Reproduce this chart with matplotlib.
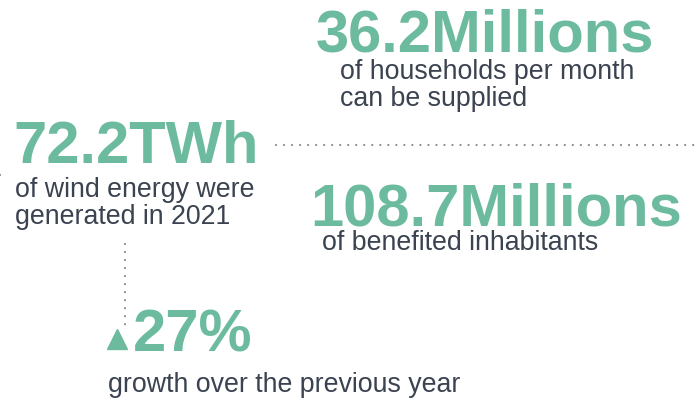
import matplotlib
matplotlib.use("Agg")
import matplotlib.pyplot as plt

plt.rcParams['font.family'] = ['Liberation Sans', 'DejaVu Sans']

# data
values = ["36.2", "72.2", "108.7", "27"]
units = ["Millions", "TWh", "Millions", "%"]
descriptions = [
    ["of households per month", "can be supplied"],
    ["of wind energy were", "generated in 2021"],
    ["of benefited inhabitants"],
    ["growth over the previous year"],
]

GREEN = "#6dbb9f"
DARK = "#3b4350"
DOT = "#8a8a8a"

W, H = 699, 403
fig = plt.figure(figsize=(W / 100, H / 100), dpi=100)
ax = fig.add_axes([0, 0, 1, 1])
ax.set_xlim(0, W)
ax.set_ylim(H, 0)
ax.axis("off")

# layout: (value x, value baseline, desc x, desc first baseline)
layout = [
    (316, 51, 340, 79),
    (13, 163, 15, 197),
    (310, 225, 322, 250),
    (133, 351, 108, 392),
]
big = 43.0
small = 19.3
gap = 26.5
for (vx, vy, dx, dy), v, u, d in zip(layout, values, units, descriptions):
    ax.text(vx, vy, v + u, color=GREEN, fontsize=big, fontweight="bold",
            ha="left", va="baseline")
    for i, line in enumerate(d):
        ax.text(dx, dy + i * gap, line, color=DARK, fontsize=small,
                ha="left", va="baseline")

# dotted connectors
def dotted(x0, y0, x1, y1):
    ax.plot([x0, x1], [y0, y1], color=DOT, lw=1.6, dashes=(0.01, 3.6),
            solid_capstyle="round", dash_capstyle="round")

dotted(276, 145, 699, 145)
dotted(125, 244, 125, 326)
dotted(0, 175, 3, 175)

# up triangle marker
ax.plot([117], [339], marker="^", markersize=14, color=GREEN, mec=GREEN)

fig.savefig("out.png", dpi=100)
